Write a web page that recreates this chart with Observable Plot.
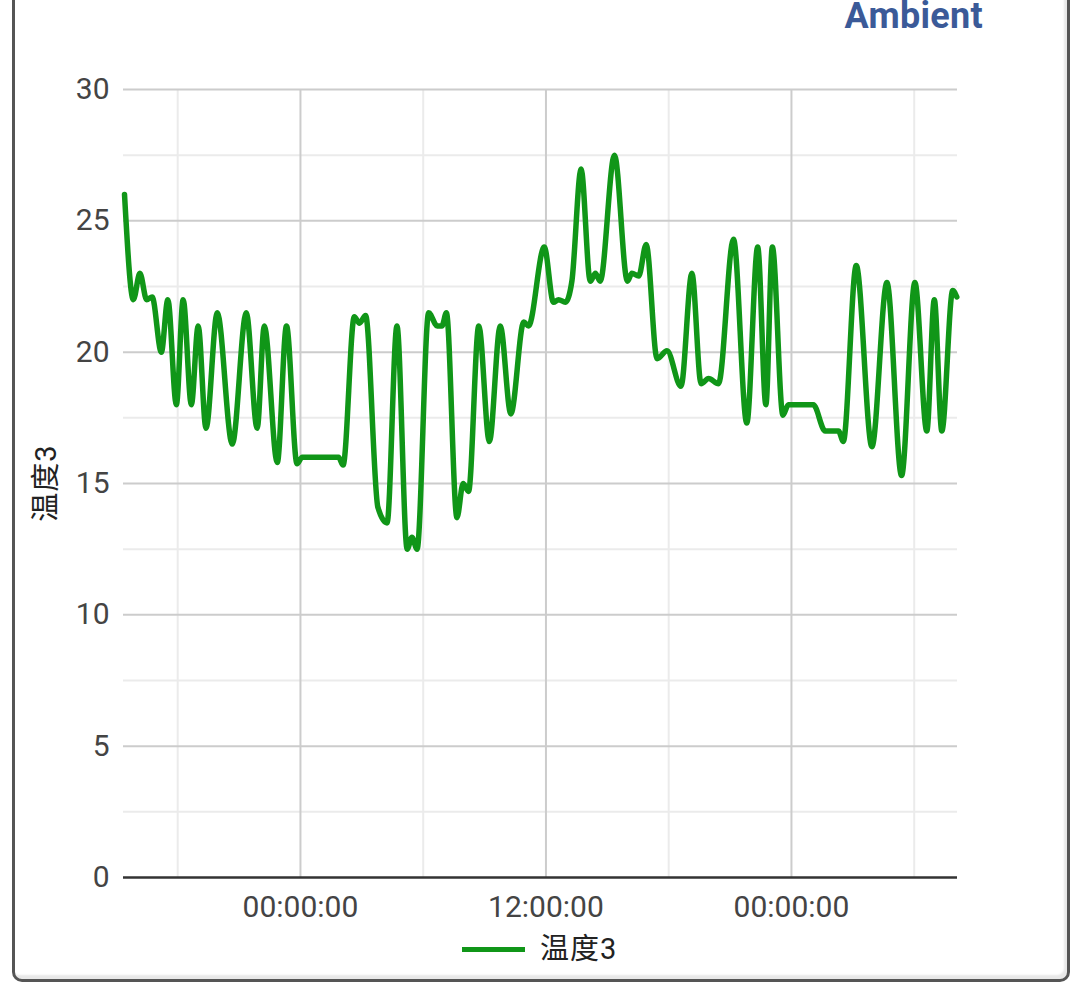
<!DOCTYPE html>
<html>
<head>
<meta charset="utf-8">
<script src="https://cdn.jsdelivr.net/npm/d3@7"></script>
<script src="https://cdn.jsdelivr.net/npm/@observablehq/plot@0.6"></script>
<style>
  html, body { margin: 0; padding: 0; background: #fff; }
  #page { position: relative; width: 1080px; height: 1007px; overflow: hidden; font-family: Roboto, "Noto Sans CJK SC", sans-serif; }
  #card { position: absolute; left: 12px; top: -20px; width: 1058px; height: 1002px; box-sizing: border-box;
          border: 3px solid #555; border-radius: 10px; box-shadow: inset -3px -4px 2px #e8e8e8; }
  #chart { position: absolute; left: 0; top: 0; }
  #title { position: absolute; right: 97px; top: 1px; font: bold 36px/30px Roboto, sans-serif; color: #3b5a98; letter-spacing: 0.3px; }
  #ylabel { position: absolute; left: 46px; top: 483px; transform: translate(-50%, -50%) rotate(-90deg);
            font: 29px/29px Roboto, "Noto Sans CJK SC", sans-serif; color: #222; white-space: nowrap; letter-spacing: 1px; }
  #legend { position: absolute; left: 462px; top: 930px; height: 38px; display: flex; align-items: center;
            font: 29px/38px Roboto, "Noto Sans CJK SC", sans-serif; color: #222; letter-spacing: 1px; }
  #legend .sw { width: 63px; height: 5px; background: #109618; margin-right: 15px; }
</style>
</head>
<body>
<div id="page">
  <div id="card"></div>
  <div id="chart"></div>
  <div id="title">Ambient</div>
  <div id="ylabel">温度3</div>
  <div id="legend"><span class="sw"></span><span>温度3</span></div>
</div>
<script>
const seriesName = "温度3";
const times = [
  "2023-04-30T15:24","2023-04-30T15:50","2023-04-30T16:09","2023-04-30T16:29","2023-04-30T16:45","2023-04-30T17:12","2023-04-30T17:31","2023-04-30T17:56","2023-04-30T18:16","2023-04-30T18:40",
  "2023-04-30T19:00","2023-04-30T19:23","2023-04-30T19:56","2023-04-30T20:40","2023-04-30T21:21","2023-04-30T21:53","2023-04-30T22:14","2023-04-30T22:52","2023-04-30T23:19","2023-04-30T23:50",
  "2023-05-01T00:05","2023-05-01T01:52","2023-05-01T02:05","2023-05-01T02:38","2023-05-01T02:53","2023-05-01T03:11","2023-05-01T03:47","2023-05-01T04:14","2023-05-01T04:43","2023-05-01T05:13",
  "2023-05-01T05:27","2023-05-01T05:42","2023-05-01T06:16","2023-05-01T06:41","2023-05-01T06:55","2023-05-01T07:08","2023-05-01T07:39","2023-05-01T07:57","2023-05-01T08:13","2023-05-01T08:43",
  "2023-05-01T09:14","2023-05-01T09:46","2023-05-01T10:17","2023-05-01T10:55","2023-05-01T11:09","2023-05-01T11:55","2023-05-01T12:22","2023-05-01T12:37","2023-05-01T12:57","2023-05-01T13:16",
  "2023-05-01T13:43","2023-05-01T14:10","2023-05-01T14:25","2023-05-01T14:39","2023-05-01T15:21","2023-05-01T15:59","2023-05-01T16:12","2023-05-01T16:32","2023-05-01T16:54","2023-05-01T17:26",
  "2023-05-01T17:55","2023-05-01T18:36","2023-05-01T19:08","2023-05-01T19:35","2023-05-01T19:57","2023-05-01T20:26","2023-05-01T21:10","2023-05-01T21:49","2023-05-01T22:21","2023-05-01T22:45",
  "2023-05-01T23:04","2023-05-01T23:35","2023-05-01T23:51",
  "2023-05-02T01:04","2023-05-02T01:39","2023-05-02T02:18","2023-05-02T02:32","2023-05-02T03:10","2023-05-02T03:56","2023-05-02T04:40","2023-05-02T05:23","2023-05-02T06:02","2023-05-02T06:37",
  "2023-05-02T06:59","2023-05-02T07:21","2023-05-02T07:53","2023-05-02T08:05"
];
const values = [
  26.0, 22.0, 23.0, 22.0, 22.1, 20.0, 22.0, 18.0, 22.0, 18.0,
  21.0, 17.1, 21.5, 16.5, 21.5, 17.1, 21.0, 15.8, 21.0, 15.75,
  16.0, 16.0, 15.7, 21.35, 21.1, 21.4, 14.1, 13.5, 21.0, 12.5,
  12.95, 12.5, 21.5, 21.0, 21.0, 21.5, 13.7, 15.0, 14.7, 21.0,
  16.6, 21.0, 17.65, 21.15, 21.0, 24.0, 21.9, 22.0, 21.9, 22.7,
  26.97, 22.7, 23.0, 22.7, 27.5, 22.7, 23.0, 22.9, 24.1, 19.75,
  20.05, 18.7, 23.0, 18.8, 19.0, 18.8, 24.3, 17.3, 24.0, 18.0,
  24.0, 17.6, 18.0,
  18.0, 17.0, 17.0, 16.6, 23.3, 16.4, 22.65, 15.3, 22.65, 17.0,
  22.0, 17.0, 22.35, 22.1
];
const xDomain = ["2023-04-30T15:21","2023-05-02T08:07"];
const xMajorTicks = ["2023-05-01T00:00","2023-05-01T12:00","2023-05-02T00:00"];
const xMinorTicks = ["2023-04-30T18:00","2023-05-01T06:00","2023-05-01T18:00","2023-05-02T06:00"];
const yMajorTicks = [0, 5, 10, 15, 20, 25, 30];
const yMinorTicks = [2.5, 7.5, 12.5, 17.5, 22.5, 27.5];

const parse = s => new Date(s + ":00Z");
const data = times.map((t, i) => ({time: parse(t), value: values[i]}));
const xMajor = xMajorTicks.map(parse);
const xMinor = xMinorTicks.map(parse);

const chart = Plot.plot({
  width: 1080,
  height: 935,
  marginLeft: 123,
  marginRight: 123,
  marginTop: 89,
  marginBottom: 58,
  style: {fontFamily: "Roboto, sans-serif", background: "transparent"},
  x: {type: "utc", domain: xDomain.map(parse)},
  y: {domain: [0, 30]},
  marks: [
    Plot.ruleY(yMinorTicks, {stroke: "#ebebeb", strokeWidth: 2}),
    Plot.ruleX(xMinor, {stroke: "#ebebeb", strokeWidth: 2}),
    Plot.ruleY(yMajorTicks.filter(d => d !== 0), {stroke: "#cccccc", strokeWidth: 2}),
    Plot.ruleX(xMajor, {stroke: "#cccccc", strokeWidth: 2}),
    Plot.ruleY([0], {stroke: "#333", strokeWidth: 2.5}),
    Plot.line(data, {x: "time", y: "value", stroke: "#109618", strokeWidth: 5.5, curve: "monotone-x", strokeLinejoin: "round"}),
    Plot.axisY({ticks: yMajorTicks, tickSize: 0, tickPadding: 14, fontSize: 30, label: null, fill: "#444", style: {letterSpacing: "1px"}}),
    Plot.axisX({ticks: xMajor, tickFormat: d3.utcFormat("%H:%M:%S"), tickSize: 0, tickPadding: 18, fontSize: 30, label: null, fill: "#444", style: {letterSpacing: "1px"}})
  ]
});
document.getElementById("chart").appendChild(chart);
</script>
</body>
</html>
